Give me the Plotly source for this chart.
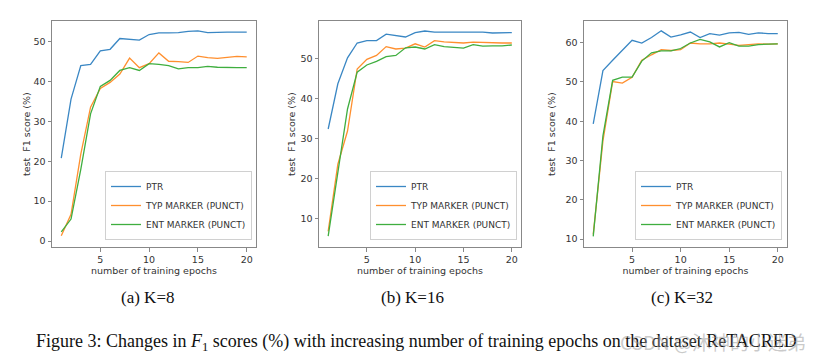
import plotly.graph_objects as go

W, H = 821, 363

epochs = list(range(1, 21))

# K=8
ptr_k8 = [20.8, 35.6, 44.0, 44.3, 47.7, 48.1, 50.8, 50.6, 50.4, 51.8, 52.2, 52.2, 52.3, 52.6, 52.7, 52.3, 52.4, 52.4, 52.4, 52.4]
typ_k8 = [1.3, 6.7, 21.8, 33.6, 38.3, 39.8, 41.9, 45.9, 43.5, 44.5, 47.2, 45.1, 45.0, 44.8, 46.4, 46.0, 45.8, 46.1, 46.3, 46.2]
ent_k8 = [2.3, 5.5, 18.0, 31.9, 38.8, 40.3, 42.8, 43.5, 42.8, 44.5, 44.3, 44.0, 43.2, 43.5, 43.5, 43.8, 43.6, 43.5, 43.5, 43.5]

# K=16
ptr_k16 = [32.3, 43.6, 50.1, 53.8, 54.4, 54.4, 56.0, 55.7, 55.3, 56.4, 56.8, 56.5, 56.5, 56.4, 56.4, 56.5, 56.5, 56.3, 56.3, 56.4]
typ_k16 = [6.7, 23.5, 31.8, 47.3, 49.7, 50.7, 52.9, 52.3, 52.5, 53.6, 52.8, 54.4, 54.1, 54.0, 53.8, 54.0, 53.9, 53.8, 53.8, 53.8]
ent_k16 = [5.5, 21.0, 37.3, 46.5, 48.3, 49.2, 50.4, 50.7, 52.6, 52.8, 52.3, 53.4, 52.9, 52.7, 52.5, 53.4, 53.0, 53.1, 53.1, 53.3]

# K=32
ptr_k32 = [39.3, 52.9, 55.5, 58.0, 60.6, 59.9, 61.3, 63.0, 61.4, 62.0, 62.7, 61.3, 62.3, 61.9, 62.5, 62.6, 62.1, 62.5, 62.3, 62.3]
typ_k32 = [11.2, 35.0, 50.1, 49.7, 51.2, 55.5, 56.9, 58.2, 58.0, 58.2, 59.9, 59.7, 59.7, 59.9, 59.6, 59.3, 59.5, 59.7, 59.6, 59.7]
ent_k32 = [10.7, 36.3, 50.4, 51.2, 51.2, 55.3, 57.4, 57.9, 57.9, 58.5, 59.9, 60.8, 60.2, 58.9, 60.0, 59.1, 59.1, 59.5, 59.6, 59.7]

series_names = ["PTR", "TYP MARKER (PUNCT)", "ENT MARKER (PUNCT)"]
colors = ["#3a87c4", "#ff8f2e", "#3fae3f"]
panel_titles = ["(a) K=8", "(b) K=16", "(c) K=32"]
x_ticks = [5, 10, 15, 20]
y_ticks = [[0, 10, 20, 30, 40, 50], [10, 20, 30, 40, 50], [10, 20, 30, 40, 50, 60]]
y_ranges = [[-1.5, 55.2], [2.8, 59.3], [8.0, 65.5]]
panels = [[ptr_k8, typ_k8, ent_k8], [ptr_k16, typ_k16, ent_k16], [ptr_k32, typ_k32, ent_k32]]

# panel boxes in pixels (left, right), top/bottom
px_x = [(52, 256), (319, 521), (584, 787)]
top_px, bot_px = 21, 247
ylab_x = [27, 292, 552]
title_cx = [147, 413, 682]
legend_right = [252, 517, 782]

fig = go.Figure()
tickfont = dict(family="DejaVu Sans", size=9.5, color="#333")

for i, data in enumerate(panels):
    xa = "x" if i == 0 else f"x{i+1}"
    ya = "y" if i == 0 else f"y{i+1}"
    lg = "legend" if i == 0 else f"legend{i+1}"
    for j, vals in enumerate(data):
        fig.add_trace(go.Scatter(x=epochs, y=vals, mode="lines", name=series_names[j],
                                 line=dict(color=colors[j], width=1.3),
                                 xaxis=xa, yaxis=ya, legend=lg, showlegend=True))
    l, r = px_x[i]
    axis_common = dict(showline=True, linecolor="#888", linewidth=1, mirror=True,
                       showgrid=False, zeroline=False, ticks="outside", ticklen=3.5,
                       tickcolor="#888", tickfont=tickfont)
    fig.layout[("xaxis" if i == 0 else f"xaxis{i+1}")] = dict(
        domain=[l / W, r / W], range=[0.05, 20.95], tickvals=x_ticks,
        anchor=ya,
        title=dict(text="number of training epochs", font=dict(family="DejaVu Sans", size=9.5, color="#333"), standoff=1),
        **axis_common)
    fig.layout[("yaxis" if i == 0 else f"yaxis{i+1}")] = dict(
        domain=[1 - bot_px / H, 1 - top_px / H], range=y_ranges[i], tickvals=y_ticks[i],
        anchor=xa, **axis_common)
    fig.add_annotation(text="test\u00a0 F1 score (%)", x=ylab_x[i] / W, y=1 - 134 / H,
                       xref="paper", yref="paper", showarrow=False, textangle=-90,
                       xanchor="center", yanchor="middle",
                       font=dict(family="DejaVu Sans", size=9.5, color="#333"))
    fig.add_annotation(text=panel_titles[i], x=title_cx[i] / W, y=1 - 297 / H,
                       xref="paper", yref="paper", showarrow=False,
                       xanchor="center", yanchor="middle",
                       font=dict(family="Liberation Serif", size=17, color="#111"))
    fig.layout[lg] = dict(x=legend_right[i] / W, y=1 - 240 / H, xanchor="right", yanchor="bottom",
                          bgcolor="white", bordercolor="#d0d0d0", borderwidth=1,
                          font=dict(family="DejaVu Sans", size=9, color="#333"),
                          tracegroupgap=0, itemwidth=30)

fig.add_annotation(text="Figure 3: Changes in <i>F</i><sub>1</sub> scores (%) with increasing number of training epochs on the dataset ReTACRED",
                   x=34 / W, y=1 - 342 / H, xref="paper", yref="paper", xanchor="left", yanchor="middle",
                   showarrow=False, font=dict(family="Liberation Serif", size=18, color="#111"))
fig.add_annotation(text="CSDN @沐神的小迷弟", x=808 / W, y=1 - 341 / H, xref="paper", yref="paper",
                   xanchor="right", yanchor="middle", showarrow=False,
                   font=dict(family="Noto Sans CJK SC", size=19, color="rgba(150,150,150,0.5)"))

fig.update_layout(width=W, height=H, margin=dict(l=0, r=0, t=0, b=0),
                  paper_bgcolor="white", plot_bgcolor="white")

fig.write_html("out.html", config={"displayModeBar": False},
               post_script="document.body.style.margin='0';document.body.style.overflow='hidden';")
